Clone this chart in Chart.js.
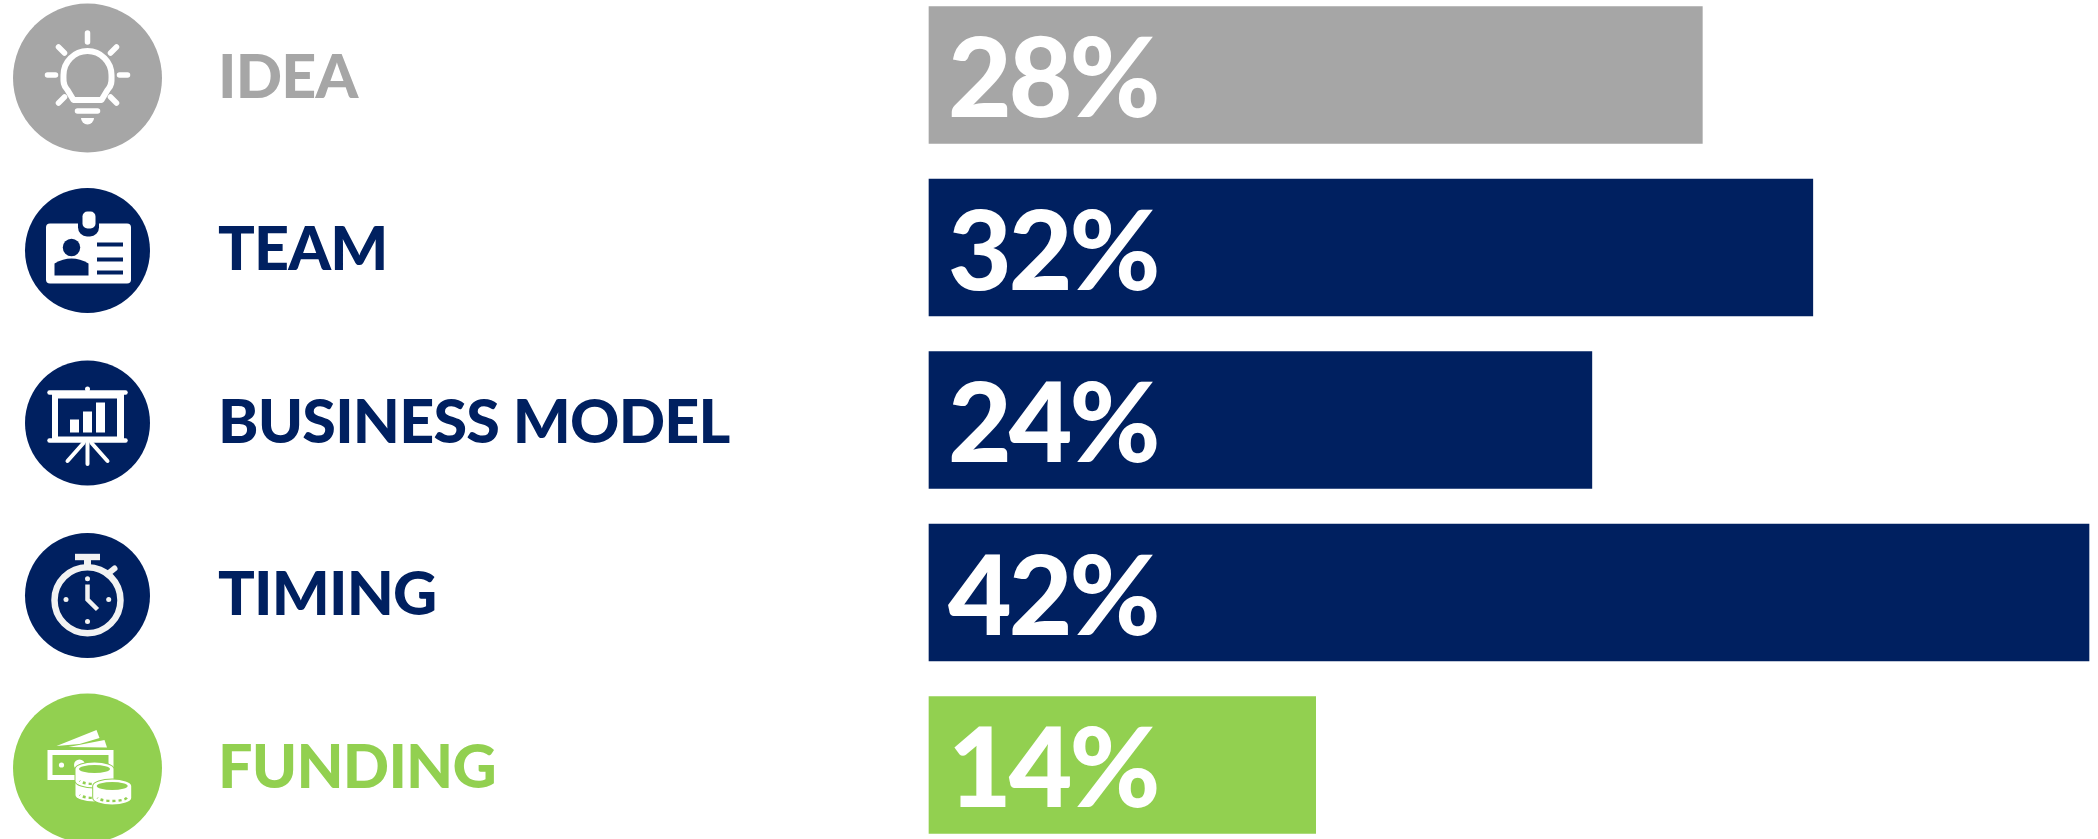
<!DOCTYPE html>
<html><head><meta charset="utf-8">
<style>html,body{margin:0;padding:0;background:#fff;overflow:hidden}#wrap{position:relative;width:2098px;height:839px}</style>
<script src="https://cdn.jsdelivr.net/npm/chart.js@4"></script>
</head><body><div id="wrap"><canvas id="c" width="2098" height="839"></canvas></div>
<script>
const categories = ['IDEA','TEAM','BUSINESS MODEL','TIMING','FUNDING'];
const shares = [28,32,24,42,14];
const tickMax = 42;
const barColors = ['#A6A6A6','#002060','#002060','#002060','#92D050'];
const iconRadii = [74.5,62.5,62.5,62.5,74.5];

function line(c,pts,w,col){c.beginPath();c.lineWidth=w;c.lineCap='round';c.lineJoin='round';c.strokeStyle=col||'#fff';
  pts.forEach((p,i)=>i?c.lineTo(p[0],p[1]):c.moveTo(p[0],p[1]));c.stroke();}
function rr(c,x,y,w,h,r,col){c.beginPath();c.roundRect(x,y,w,h,r);c.fillStyle=col;c.fill();}
function dot(c,x,y,r,col){c.beginPath();c.arc(x,y,r,0,Math.PI*2);c.fillStyle=col||'#fff';c.fill();}

const icons = [
 function idea(c){
  [[0,-45,0,-36],[-29,-31,-23,-25],[29,-31,23,-25],[-40,-3,-32,-3],[40,-3,32,-3],[-29,25,-23,19],[29,25,23,19]]
   .forEach(a=>line(c,[[a[0],a[1]],[a[2],a[3]]],5.5));
  c.beginPath();c.lineWidth=6;c.strokeStyle='#fff';c.lineJoin='round';
  c.moveTo(-14,22);c.lineTo(-20,12);c.bezierCurveTo(-25,7,-24,2,-24,-3);
  c.arc(0,-3,24,Math.PI,0);c.bezierCurveTo(24,2,25,7,20,12);c.lineTo(14,22);c.closePath();c.stroke();
  line(c,[[-10,33],[10,33]],5.5);
  c.beginPath();c.moveTo(-6.5,40);c.lineTo(6.5,40);c.arc(0,40,6.5,0,Math.PI);c.closePath();c.fillStyle='#fff';c.fill();
 },
 function team(c,bg){
  rr(c,-41.5,-27,85,60,4,'#fff');
  rr(c,-9.5,-32,21,18,[0,0,9,9],bg);
  rr(c,-5,-39,13,17,5,'#fff');
  dot(c,-16,-3,8.7,bg);
  c.beginPath();c.moveTo(-33,25);c.lineTo(-33,13);c.quadraticCurveTo(-16,3,1,13);c.lineTo(1,25);c.closePath();c.fillStyle=bg;c.fill();
  [-6,9,22].forEach(y=>{c.fillStyle=bg;c.fillRect(9.5,y-2,26,4);});
 },
 function model(c,bg){
  line(c,[[-38,-30.5],[38,-30.5]],4.5);line(c,[[-38,17.5],[38,17.5]],4.5);
  dot(c,0,-34,2.5);
  rr(c,-35.5,-31,72,48,0,'#fff');rr(c,-29.5,-24.5,59,38,0,bg);
  c.fillStyle='#fff';c.fillRect(-17.5,-3.5,9,13);c.fillRect(-4.5,-11.5,9,21);c.fillRect(8.5,-20.5,9,30);
  line(c,[[0,20],[0,41]],4);line(c,[[-4,20],[-20,38]],4);line(c,[[4,20],[20,38]],4);
 },
 function timing(c){
  const g='#F2F2F2';
  c.beginPath();c.arc(0,4.7,33,0,Math.PI*2);c.lineWidth=6.5;c.strokeStyle=g;c.stroke();
  c.fillStyle=g;c.fillRect(-12.5,-41.7,25,6.4);c.fillRect(-3.5,-36,7,7);
  line(c,[[22,-23],[27,-27]],6,g);
  [[0,-16.7],[0,26],[-21.5,4],[21.2,4]].forEach(p=>dot(c,p[0],p[1],2.5,g));
  c.beginPath();c.moveTo(0,-11);c.lineTo(0,4);c.lineTo(10,14);c.lineWidth=4.5;c.lineCap='butt';c.lineJoin='miter';c.strokeStyle=g;c.stroke();
 },
 function funding(c,bg){
  c.fillStyle='#fff';
  c.beginPath();c.moveTo(-31,-22);c.lineTo(9,-38);c.lineTo(12,-30);c.lineTo(-8,-24);c.closePath();c.fill();
  c.beginPath();c.moveTo(-19,-21);c.lineTo(17,-28);c.lineTo(19.5,-20.5);c.closePath();c.fill();
  c.fillRect(-40,-18,66,30);c.fillStyle=bg;c.fillRect(-35,-13,56,20);
  dot(c,-26,-3,2.6);
  dot(c,-8,-3,5.5);
  const coin=(x,y)=>{
    c.beginPath();c.ellipse(x,y+6,19,6.5,0,0,Math.PI);c.lineTo(x-19,y-6);c.ellipse(x,y-6,19,6.5,0,Math.PI,Math.PI*2);c.closePath();
    c.lineWidth=2;c.strokeStyle=bg;c.stroke();c.fillStyle='#fff';c.fill();
    c.beginPath();c.ellipse(x,y-6,15.5,4,0,0,Math.PI*2);c.fillStyle=bg;c.fill();
    c.setLineDash([3,3]);c.beginPath();c.ellipse(x,y+5,15,4,0,.2,Math.PI-.2);c.lineWidth=2.4;c.strokeStyle=bg;c.lineCap='butt';c.stroke();c.setLineDash([]);
  };
  coin(7,21);coin(7,7);coin(24.7,24);
 }
];

const textPlugin = {
 id:'tickSpacing',
 beforeDraw(chart){chart.ctx.fontKerning='none';chart.ctx.letterSpacing='-0.8px';},
 afterDraw(chart){chart.ctx.letterSpacing='0px';}
};
const iconPlugin = {
 id:'icons',
 afterDatasetsDraw(chart){
  const c=chart.ctx, ys=chart.scales.y;
  categories.forEach((_,i)=>{
    const x=87.5, y=ys.getPixelForValue(i)+3, bg=barColors[i];
    c.save();c.letterSpacing='0px';c.translate(x,y);
    c.beginPath();c.arc(0,0,iconRadii[i],0,Math.PI*2);c.fillStyle=bg;c.fill();
    icons[i](c,bg);
    c.restore();
  });
 }
};
const valuePlugin = {
 id:'values',
 afterDatasetsDraw(chart){
  const c=chart.ctx, meta=chart.getDatasetMeta(0);
  c.save();c.letterSpacing='-3px';c.fillStyle='#fff';c.font='900 110px Lato';c.textAlign='left';c.textBaseline='alphabetic';
  meta.data.forEach((b,i)=>{c.fillText(shares[i]+'%',b.base+19,b.y+42);});
  c.restore();
 }
};

new Chart(document.getElementById('c'),{
 type:'bar',
 data:{labels:categories,datasets:[{data:shares,backgroundColor:barColors,barThickness:137,clip:false,borderWidth:0}]},
 options:{
  indexAxis:'y',responsive:false,animation:false,
  layout:{padding:{left:218,right:9,top:75,bottom:74}},
  plugins:{legend:{display:false},tooltip:{enabled:false}},
  scales:{
   x:{display:false,min:0,max:tickMax,grid:{display:false}},
   y:{offset:false,border:{display:false},grid:{display:false},
      afterFit(s){s.width=711;},
      ticks:{autoSkip:false,crossAlign:'far',padding:0,labelOffset:3,font:{family:'Lato',weight:900,size:61},
             color:ctx=>barColors[ctx.index]}}
  }
 },
 plugins:[textPlugin,iconPlugin,valuePlugin]
});
</script></body></html>
